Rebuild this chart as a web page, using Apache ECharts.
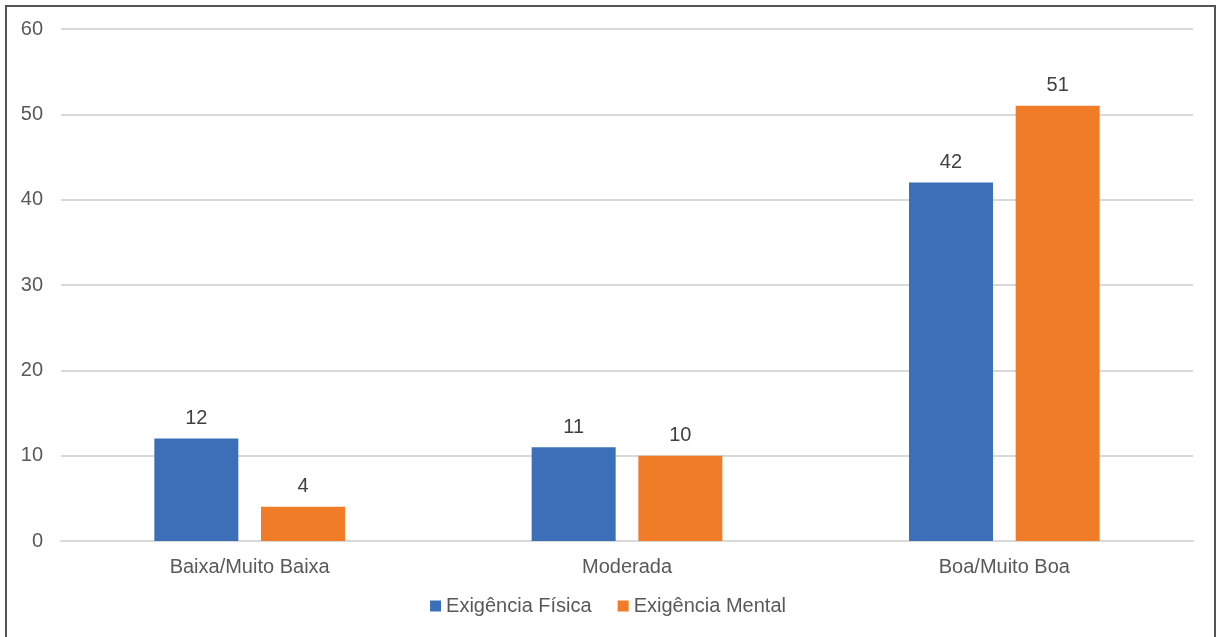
<!DOCTYPE html>
<html>
<head>
<meta charset="UTF-8">
<title>Exigência</title>
<script src="https://cdn.jsdelivr.net/npm/echarts@6/dist/echarts.min.js"></script>
<style>
 body{margin:0;background:#fff;}
 #frame{position:absolute;left:5px;top:5px;width:1207px;height:640px;border:2px solid #555;}
 #main{position:absolute;left:0;top:0;width:1216px;height:637px;}
</style>
</head>
<body>
<div id="frame"></div>
<div id="main"></div>
<script>
var categories = ['Baixa/Muito Baixa', 'Moderada', 'Boa/Muito Boa'];
var fisica = [12, 11, 42];
var mental = [4, 10, 51];
var seriesNames = ['Exigência Física', 'Exigência Mental'];

var chart = echarts.init(document.getElementById('main'));
var labelStyle = {show: true, position: 'top', distance: 10, color: '#404040', fontSize: 20, fontFamily: 'Liberation Sans, Arial'};
var option = {
  animation: false,
  textStyle: {fontFamily: 'Liberation Sans, Arial'},
  grid: {left: 61, right: 23, top: 29, bottom: 96, containLabel: false},
  legend: {
    bottom: 16, left: 'center', itemWidth: 11, itemHeight: 11, itemGap: 26, icon: 'rect',
    textStyle: {fontSize: 20, color: '#595959', fontFamily: 'Liberation Sans, Arial'},
    data: seriesNames
  },
  xAxis: {
    type: 'category', data: categories,
    axisLine: {lineStyle: {color: '#d9d9d9', width: 2}},
    axisTick: {show: false},
    axisLabel: {fontSize: 20, color: '#595959', margin: 16}
  },
  yAxis: {
    type: 'value', min: 0, max: 60, interval: 10,
    axisLine: {show: false}, axisTick: {show: false},
    axisLabel: {fontSize: 20, color: '#595959', margin: 18},
    splitLine: {lineStyle: {color: '#d9d9d9', width: 2}}
  },
  series: [
    {name: seriesNames[0], type: 'bar', data: fisica, barWidth: 84, barGap: '27%',
     itemStyle: {color: '#3b70b8'}, label: labelStyle},
    {name: seriesNames[1], type: 'bar', data: mental, barWidth: 84,
     itemStyle: {color: '#f07c28'}, label: labelStyle}
  ]
};
chart.setOption(option);
</script>
</body>
</html>
